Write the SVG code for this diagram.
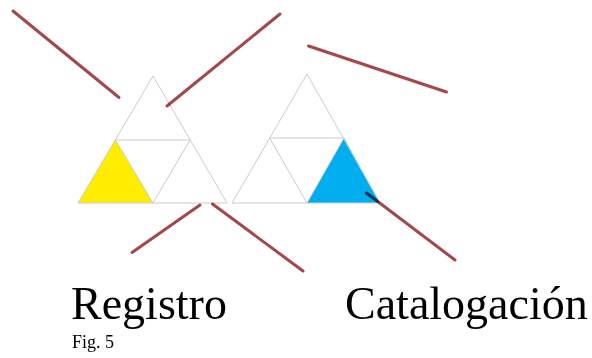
<svg xmlns="http://www.w3.org/2000/svg" width="592" height="358" viewBox="0 0 592 358">
  <style>
    .tri { fill: none; stroke: #cccccc; stroke-width: 1; }
    .stroke { stroke: #a3474c; stroke-width: 3; stroke-linecap: round; fill: none; filter: url(#soft); mix-blend-mode: multiply; }
    .label { font-family: "Liberation Serif", "Times New Roman", serif; fill: #000; }
  </style>
  <defs>
    <filter id="soft" x="-10%" y="-10%" width="120%" height="120%">
      <feGaussianBlur stdDeviation="0.6"/>
    </filter>
  </defs>
  <rect width="592" height="358" fill="#ffffff"/>

  <!-- left triangle, lower-left part filled yellow -->
  <g id="registro">
    <polygon points="78,203 115.5,140 153,203" fill="#ffed00"/>
    <polygon class="tri" points="153,76 78,203 227,203"/>
    <polyline class="tri" points="115.5,140 190,140 153,203 115.5,140"/>
  </g>

  <!-- right triangle, lower-right part filled blue -->
  <g id="catalogacion">
    <polygon points="307,203 344,138 380,203" fill="#00aeef"/>
    <polygon class="tri" points="307,74 232,203 380,203"/>
    <polyline class="tri" points="269.5,138 344,138 307,203 269.5,138"/>
  </g>

  <!-- diagonal strokes -->
  <g id="connectors">
    <line class="stroke" x1="13" y1="11" x2="119" y2="97.5"/>
    <line class="stroke" x1="280" y1="14" x2="167" y2="106"/>
    <line class="stroke" x1="308.5" y1="46" x2="446.5" y2="92"/>
    <line class="stroke" x1="200" y1="205" x2="132" y2="252.5"/>
    <line class="stroke" x1="212.5" y1="204" x2="303" y2="271"/>
    <line class="stroke" x1="366.5" y1="193" x2="455" y2="260"/>
  </g>

  <g id="labels">
    <text class="label" x="71" y="319" font-size="46">Registro</text>
    <text class="label" x="345" y="319" font-size="46">Catalogación</text>
    <text class="label" x="72" y="348" font-size="18">Fig. 5</text>
  </g>
</svg>
